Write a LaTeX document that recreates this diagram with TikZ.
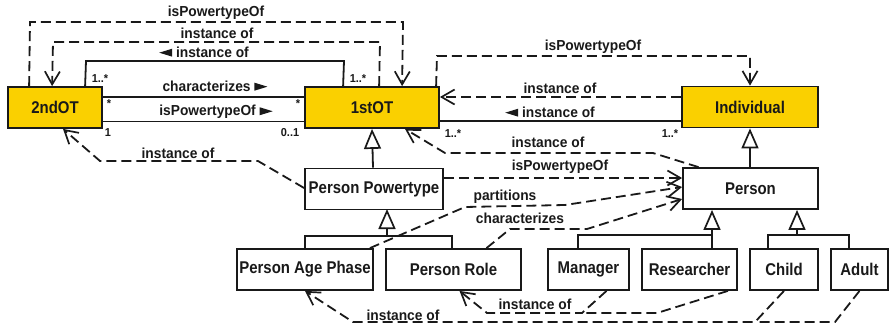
\documentclass[tikz,border=0pt]{standalone}
\usepackage{fontspec}
\usetikzlibrary{arrows.meta}
\newfontfamily\boxfont{Liberation Sans}[FakeStretch=0.88]
\newfontfamily\lblfont{Liberation Sans}[FakeStretch=0.95]
\definecolor{otyellow}{RGB}{250,208,0}
\definecolor{ink}{RGB}{25,25,25}
% small filled direction marks used inside association labels
\newcommand{\dirR}{\tikz[baseline=0pt]\fill[ink] (0,0.5pt)--(13pt,4.5pt)--(0,8.5pt)--cycle;}
\newcommand{\dirL}{\tikz[baseline=0pt]\fill[ink] (13pt,0.5pt)--(0,4.5pt)--(13pt,8.5pt)--cycle;}
\tikzset{
  cls/.style={draw=ink, line width=1.8pt, fill=white, inner sep=0pt, text=ink,
    minimum height=41pt, font=\boxfont\fontsize{17}{19}\selectfont\bfseries},
  ot/.style={cls, fill=otyellow},
  dep/.style={draw=ink, line width=1.8pt, dash pattern=on 10pt off 5pt,
    -{Straight Barb[length=13pt,width=15pt,line width=1.7pt]}},
  depline/.style={draw=ink, line width=1.8pt, dash pattern=on 10pt off 5pt},
  assoc/.style={draw=ink, line width=1.8pt},
  gen/.style={draw=ink, line width=1.8pt, -{Triangle[open,length=20pt,width=17pt,line width=1.7pt]}},
  tree/.style={draw=ink, line width=1.8pt},
  lbl/.style={font=\lblfont\fontsize{14.5}{16}\selectfont\bfseries, inner sep=0pt, text=ink},
  mult/.style={font=\lblfont\fontsize{11.5}{13}\selectfont\bfseries, inner sep=0pt, text=ink},
}
\begin{document}
\begin{tikzpicture}[x=1pt,y=-1pt]
\useasboundingbox (0,0) rectangle (890,324);

% classes
\node[ot, minimum width=94pt]  (ot2)    at (55,107.5)  {2ndOT};
\node[ot, minimum width=134pt] (ot1)    at (372,107.5) {1stOT};
\node[ot, minimum width=136pt] (indiv)  at (750,107)   {Individual};
\node[cls, minimum width=135pt] (person) at (750.5,188.5) {Person};
\node[cls, minimum width=138pt] (ppt)    at (374,189)   {Person Powertype};
\node[cls, minimum width=136pt] (pap)    at (305,269.5) {Person Age Phase};
\node[cls, minimum width=135pt] (prole)  at (453.5,269.5) {Person Role};
\node[cls, minimum width=81pt]  (mgr)    at (588.5,269.5) {Manager};
\node[cls, minimum width=95pt]  (res)    at (689.5,269.5) {Researcher};
\node[cls, minimum width=68pt]  (child)  at (784,269.5) {Child};
\node[cls, minimum width=57pt]  (adult)  at (859.5,269.5) {Adult};

% 2ndOT <-> 1stOT
\draw[dep] ([xshift=22pt]ot2.north west) -- (30,22) -- (403,22) -- ([xshift=98pt]ot1.north west);
\node[lbl] (l1) at (216,13) {isPowertypeOf};
\draw[dep] ([xshift=75pt]ot1.north west) -- (380,42) -- (53,42) -- ([xshift=45pt]ot2.north west);
\node[lbl] (l2) at (217,33) {instance of};
\draw[assoc] ([xshift=78pt]ot2.north west) -- (86,61) -- (344,61) -- ([xshift=39pt]ot1.north west);
\node[lbl] (l3) at (204,52) {\dirL\ instance of};
\node[mult] at (100,79) {1..*};
\node[mult] at (358,79) {1..*};
\draw[assoc] (ot2.east |- 0,97) -- (ot1.west |- 0,97);
\node[lbl] (l4) at (215,86) {characterizes \dirR};
\node[mult] at (109,104) {*};
\node[mult] at (298,104) {*};
\draw[assoc] (ot2.east |- 0,121.5) -- (ot1.west |- 0,121.5);
\node[lbl] (l5) at (216,112) {isPowertypeOf \dirR};
\node[mult] at (108,133) {1};
\node[mult] at (290,133) {0..1};

% 1stOT <-> Individual
\draw[dep] ([xshift=132pt]ot1.north west) -- (437,56) -- (750,56) -- (indiv.north);
\node[lbl] (l6) at (593,47) {isPowertypeOf};
\draw[dep] (indiv.west |- 0,97) -- (ot1.east |- 0,97);
\node[lbl] (l7) at (560,88) {instance of};
\draw[assoc] (ot1.east |- 0,121) -- (indiv.west |- 0,121);
\node[lbl] (l8) at (550,112) {\dirL\ instance of};
\node[mult] at (453,134) {1..*};
\node[mult] at (670,134) {1..*};

% generalizations
\draw[gen] (indiv.south |- person.north) -- (indiv.south);
\draw[gen] ([xshift=-1pt]ppt.north) -- ([xshift=-2pt]ot1.south -| ppt.north);
\coordinate (pj) at (387,236);
\draw[gen] (pj) -- (387,209);
\draw[tree] (pap.north) |- (pj) -| (prole.north -| 452,0);
\coordinate (rj) at (712,235);
\draw[gen] (res.north -| rj) -- (person.south -| rj);
\draw[tree] (mgr.north -| 578,0) |- (rj);
\coordinate (cj) at (797,235);
\draw[gen] (cj) -- (person.south -| cj);
\draw[tree] (child.north -| 768,0) |- (cj) -| (adult.north -| 849,0);

% instance-of and powertype links of the lower part
\draw[dep] (ppt.west |- 0,188) -- (258,161) -- (100,161) -- ([xshift=8pt]ot2.south);
\node[lbl] (l9) at (178,153) {instance of};
\draw[dep] ([xshift=-52pt]person.north) -- (653,153) -- (445,153) -- ([xshift=33pt]ot1.south);
\node[lbl] (l10) at (548,142) {instance of};
\draw[dep] (ppt.east |- 0,178) -- (person.west |- 0,178);
\node[lbl] (l11) at (560,167) {isPowertypeOf};
\draw[dep] ([xshift=-4pt]pap.north east) -- (465,207) -- (565,205) -- (person.west |- 0,187);
\node[lbl] (l12) at (505,197) {partitions};
\draw[dep] ([xshift=33pt]prole.north) -- (510,229) -- (587,229) -- (person.west |- 0,199);
\node[lbl] (l13) at (520,218) {characterizes};

\draw[dep] ([xshift=18pt]mgr.south) -- (582,313) -- (487,313) -- ([xshift=6pt]prole.south);
\draw[depline] ([xshift=-10pt]res.south east) -- (657,313) -- (582,313);
\node[lbl] (l14) at (535,304) {instance of};
\draw[dep] (child.south) -- (755,322) -- (353,322) -- (pap.south);
\draw[depline] (adult.south) -- (835,322) -- (755,322);
\node[lbl] (l15) at (403,315) {instance of};
\end{tikzpicture}
\end{document}
